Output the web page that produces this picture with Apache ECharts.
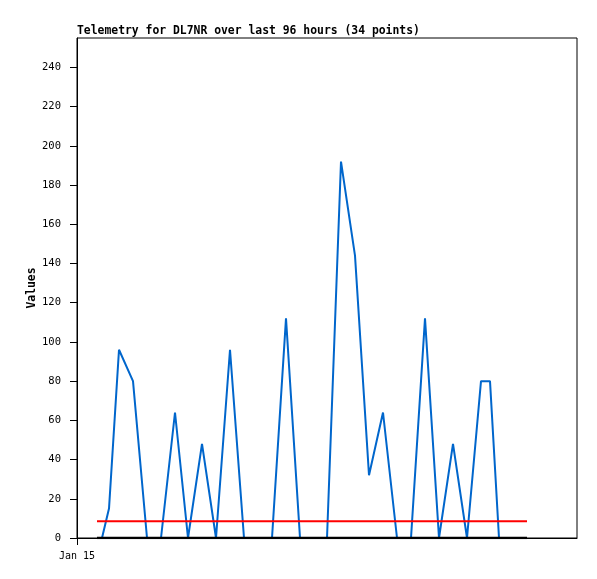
<!DOCTYPE html>
<html><head><meta charset="utf-8">
<script src="https://cdn.jsdelivr.net/npm/echarts@6/dist/echarts.min.js"></script>
<style>html,body{margin:0;padding:0;background:#fff}#c{width:597px;height:579px}</style>
</head><body><div id="c"></div>
<script>
// hours since Jan 15 00:00 (axis spans 0..100)
var hours = [4, 5, 6.4, 8.4, 11.2, 14, 16.8, 19.6, 22.2, 25, 27.8, 30.6, 33.4, 36.2, 39, 41.8, 44.6, 47.4, 50, 52.8, 55.6, 58.4, 61.2, 64, 66.8, 69.6, 72.4, 75.2, 78, 80.8, 82.6, 84.4, 87.2, 90];
var values = [0, 0, 15, 96, 80, 0, 0, 64, 0, 48, 0, 96, 0, 0, 0, 112, 0, 0, 0, 192, 144, 32, 64, 0, 0, 112, 0, 48, 0, 80, 80, 0, 0, 0];
var thresholdValue = 8.5;
var baselineValue = 0;
var yTicks = [0, 20, 40, 60, 80, 100, 120, 140, 160, 180, 200, 220, 240];
var xTickLabels = ['Jan 15'];
var xTickValues = [0];
var yAxisTitle = 'Values';

var mono = 'DejaVu Sans Mono';
var chart = echarts.init(document.getElementById('c'), null, {renderer: 'canvas'});
var pairs = hours.map(function (h, i) { return [h, values[i]]; });
var first = hours[0], last = hours[hours.length - 1];
chart.setOption({
  animation: false,
  title: {
    text: 'Telemetry for DL7NR over last 96 hours (34 points)',
    left: 77, top: 26, padding: 0,
    textStyle: {fontFamily: mono, fontWeight: 'bold', fontSize: 11.4, color: '#000'}
  },
  graphic: [{
    type: 'text', x: 32, y: 288, rotation: Math.PI / 2,
    style: {text: yAxisTitle, fontFamily: mono, fontWeight: 'bold', fontSize: 11.4, fill: '#000', align: 'center', verticalAlign: 'middle'}
  }],
  grid: {left: 77, top: 38, width: 500, height: 500, show: true, borderColor: '#000', borderWidth: 1, backgroundColor: 'transparent'},
  xAxis: {
    type: 'value', min: 0, max: 100,
    axisLine: {show: true, onZero: false, lineStyle: {color: '#000', width: 1}},
    splitLine: {show: false},
    axisTick: {show: true, length: 7, customValues: xTickValues, lineStyle: {color: '#000'}},
    axisLabel: {
      customValues: xTickValues, margin: 13,
      formatter: function (v) { var i = xTickValues.indexOf(v); return i >= 0 ? xTickLabels[i] : ''; },
      fontFamily: mono, fontSize: 10, color: '#000'
    }
  },
  yAxis: {
    type: 'value', min: 0, max: 255,
    axisLine: {show: true, lineStyle: {color: '#000', width: 1}},
    splitLine: {show: false},
    axisTick: {show: true, length: 7, customValues: yTicks, lineStyle: {color: '#000'}},
    axisLabel: {customValues: yTicks, margin: 16, fontFamily: mono, fontSize: 10.5, color: '#000'}
  },
  series: [
    {type: 'line', data: pairs, symbol: 'none', lineStyle: {color: '#0066cc', width: 2}, z: 2},
    {type: 'line', data: [[first, thresholdValue], [last, thresholdValue]], symbol: 'none', lineStyle: {color: '#ff0000', width: 2}, z: 3},
    {type: 'line', data: [[first, baselineValue], [last, baselineValue]], symbol: 'none', lineStyle: {color: '#000', width: 2.5}, z: 4}
  ]
});
</script></body></html>
